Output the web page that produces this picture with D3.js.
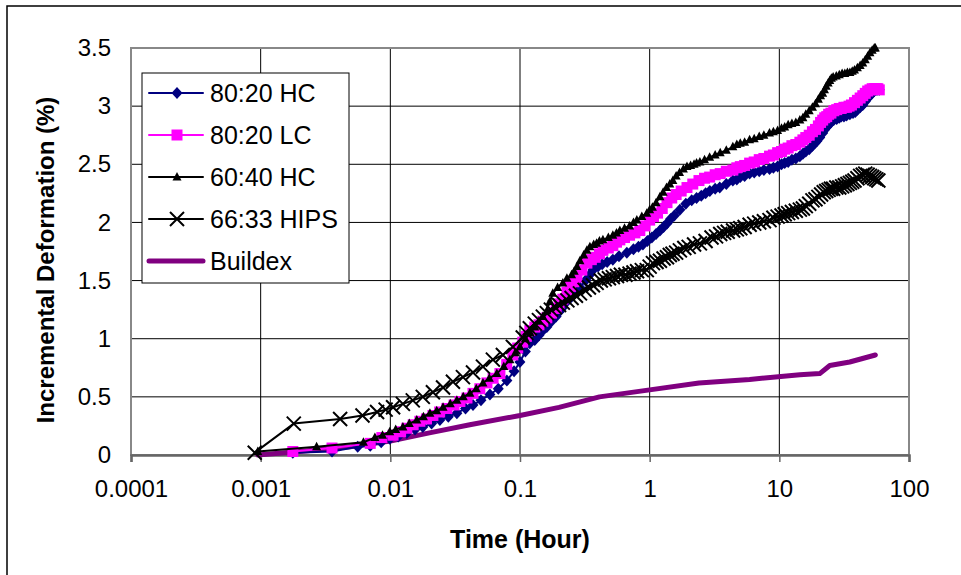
<!DOCTYPE html>
<html>
<head>
<meta charset="utf-8">
<script src="https://cdn.jsdelivr.net/npm/d3@7"></script>
<style>
  body { margin: 0; background: #fff; }
  svg { display: block; font-family: "Liberation Sans", Arial, sans-serif; }
</style>
</head>
<body>
<div id="chart"></div>
<script>
// series: [time (hour), incremental deformation (%)]
const hc8020 = [
  [0.00177,0.02],[0.00355,0.03],[0.0056,0.07],[0.007,0.08],[0.0085,0.11],[0.0099,0.14],[0.0115,0.16],
  [0.0134,0.19],[0.0155,0.22],[0.0178,0.24],[0.0208,0.27],[0.0241,0.30],[0.028,0.33],[0.0326,0.36],
  [0.038,0.40],[0.0434,0.43],[0.05,0.47],[0.0586,0.52],[0.068,0.57],[0.0792,0.64],[0.09,0.72],
  [0.0998,0.80],[0.11,0.89],[0.119,0.96],[0.13,0.99],[0.14,1.03],[0.15,1.07],[0.161,1.10],
  [0.175,1.15],[0.19,1.19],[0.2,1.23],[0.214,1.27],[0.23,1.32],[0.25,1.36],[0.27,1.40],
  [0.29,1.44],[0.32,1.50],[0.345,1.55],[0.365,1.59],[0.4,1.62],[0.43,1.64],[0.47,1.66],
  [0.52,1.68],[0.58,1.71],[0.667,1.74],[0.75,1.77],[0.82,1.79],[0.887,1.81],[0.96,1.84],
  [1.04,1.87],[1.12,1.90],[1.2,1.93],[1.28,1.96],[1.36,1.99],[1.45,2.03],[1.55,2.06],
  [1.71,2.11],[1.9,2.16],[2.11,2.19],[2.3,2.21],[2.5,2.23],[2.7,2.25],[2.91,2.27],
  [3.2,2.29],[3.47,2.30],[3.9,2.33],[4.38,2.36],[4.7,2.37],[5.0,2.39],[5.4,2.40],
  [5.9,2.42],[6.4,2.43],[7.0,2.44],[7.6,2.45],[8.4,2.46],[9.0,2.47],[9.7,2.48],
  [10.4,2.50],[11,2.51],[11.7,2.52],[12.5,2.54],[13.4,2.55],[14.4,2.57],[15.2,2.59],
  [16,2.61],[17,2.63],[18,2.66],[18.8,2.68],[19.5,2.70],[20.5,2.73],[21.6,2.77],
  [22.4,2.80],[23.2,2.82],[24,2.84],[25,2.86],[26.3,2.88],[27.7,2.89],[29,2.90],
  [30,2.91],[31.5,2.91],[33,2.92],[35,2.93],[37,2.94],[38.5,2.95],[40,2.97],
  [42,2.99],[44,3.01],[46,3.04],[48,3.07],[50,3.09],[52,3.11],[54,3.13],
  [56,3.14],[57.5,3.14],[59,3.14]
];
const lc8020 = [
  [0.00177,0.03],[0.00355,0.06],[0.007,0.10],[0.0086,0.15],[0.0105,0.17],[0.012,0.20],[0.0134,0.23],
  [0.015,0.26],[0.0169,0.29],[0.019,0.31],[0.0213,0.34],[0.024,0.37],[0.0273,0.40],[0.031,0.43],
  [0.0344,0.46],[0.039,0.49],[0.0434,0.53],[0.049,0.57],[0.0556,0.62],[0.062,0.66],[0.070,0.70],
  [0.079,0.78],[0.0881,0.86],[0.096,0.92],[0.105,0.97],[0.112,1.02],[0.119,1.07],[0.13,1.10],
  [0.14,1.12],[0.15,1.15],[0.161,1.18],[0.175,1.22],[0.19,1.26],[0.2,1.30],[0.214,1.34],
  [0.23,1.40],[0.245,1.45],[0.26,1.49],[0.275,1.53],[0.30,1.59],[0.328,1.65],[0.355,1.68],
  [0.38,1.70],[0.41,1.73],[0.436,1.76],[0.48,1.78],[0.52,1.80],[0.555,1.83],[0.589,1.85],
  [0.64,1.87],[0.7,1.89],[0.77,1.91],[0.84,1.93],[0.92,1.97],[1.0,2.02],[1.07,2.05],
  [1.15,2.08],[1.25,2.12],[1.36,2.17],[1.48,2.21],[1.6,2.24],[1.75,2.27],[1.94,2.30],
  [2.15,2.33],[2.4,2.36],[2.65,2.38],[2.9,2.39],[3.2,2.41],[3.5,2.42],[3.9,2.44],
  [4.38,2.45],[4.7,2.47],[5.0,2.48],[5.4,2.49],[5.9,2.51],[6.4,2.52],[7.0,2.54],
  [7.6,2.55],[8.4,2.57],[9.0,2.58],[9.7,2.60],[10.4,2.61],[11,2.63],[11.7,2.64],
  [12.5,2.66],[13.4,2.67],[14.4,2.69],[15.2,2.71],[16,2.73],[17,2.75],[18,2.78],
  [19,2.80],[20,2.83],[20.8,2.86],[21.6,2.88],[22.4,2.90],[23.2,2.91],[24,2.93],
  [25,2.94],[26.3,2.96],[27.7,2.97],[29,2.98],[30,2.98],[31.5,2.99],[33,2.99],
  [34.5,3.00],[36,3.01],[38,3.03],[40,3.05],[42,3.07],[44,3.09],[46,3.11],
  [48,3.13],[50,3.14],[52,3.15],[54,3.15],[56,3.15],[57.5,3.15],[59,3.14]
];
const hc6040 = [
  [0.00095,0.03],[0.0027,0.07],[0.0062,0.11],[0.0076,0.15],[0.0087,0.17],[0.0099,0.20],[0.011,0.22],
  [0.0125,0.24],[0.014,0.27],[0.016,0.30],[0.018,0.33],[0.0202,0.36],[0.0228,0.38],[0.0255,0.41],
  [0.029,0.44],[0.0326,0.47],[0.0365,0.50],[0.0411,0.53],[0.046,0.57],[0.0518,0.62],[0.058,0.66],
  [0.0663,0.70],[0.075,0.76],[0.0836,0.82],[0.092,0.88],[0.0998,0.93],[0.11,1.00],[0.12,1.05],
  [0.13,1.10],[0.14,1.15],[0.15,1.19],[0.161,1.24],[0.17,1.32],[0.179,1.39],[0.195,1.44],
  [0.214,1.48],[0.23,1.52],[0.25,1.55],[0.262,1.58],[0.275,1.62],[0.29,1.67],[0.31,1.72],
  [0.328,1.76],[0.346,1.79],[0.37,1.81],[0.39,1.82],[0.41,1.84],[0.436,1.85],[0.48,1.87],
  [0.52,1.89],[0.555,1.91],[0.589,1.93],[0.64,1.95],[0.7,1.97],[0.75,2.00],[0.796,2.02],
  [0.87,2.05],[0.95,2.08],[1.0,2.11],[1.05,2.13],[1.12,2.17],[1.2,2.22],[1.27,2.26],
  [1.35,2.30],[1.43,2.33],[1.51,2.36],[1.6,2.40],[1.7,2.43],[1.82,2.46],[1.94,2.48],
  [2.07,2.49],[2.2,2.50],[2.3,2.51],[2.44,2.52],[2.65,2.54],[2.9,2.56],[3.2,2.58],
  [3.5,2.60],[3.9,2.62],[4.38,2.65],[4.7,2.67],[5.0,2.68],[5.4,2.69],[5.9,2.71],
  [6.4,2.72],[7.0,2.74],[7.6,2.75],[8.4,2.77],[9.0,2.78],[9.7,2.79],[10.4,2.81],
  [11,2.82],[11.7,2.84],[12.5,2.85],[13.4,2.86],[14.4,2.88],[15.2,2.90],[16,2.93],
  [17,2.96],[18,2.99],[19,3.02],[20,3.06],[20.8,3.09],[21.6,3.11],[22.3,3.14],
  [23,3.17],[23.8,3.20],[24.5,3.22],[25.2,3.24],[26,3.25],[27.5,3.26],[29,3.27],
  [30.5,3.28],[32,3.28],[33.5,3.29],[35,3.29],[36.5,3.30],[38,3.31],[40,3.33],
  [42,3.35],[44,3.37],[46,3.40],[48,3.43],[50,3.46],[52,3.48],[54,3.50],[55,3.50]
];
const hips6633 = [
  [0.0009,0.02],[0.0018,0.27],[0.0041,0.31],[0.0061,0.34],[0.0079,0.37],[0.0092,0.39],[0.0105,0.41],
  [0.0125,0.44],[0.0149,0.47],[0.0178,0.50],[0.0213,0.54],[0.0255,0.58],[0.0304,0.63],[0.0363,0.67],
  [0.0434,0.71],[0.0518,0.76],[0.0618,0.82],[0.0738,0.86],[0.0881,0.93],[0.105,1.01],[0.112,1.05],
  [0.119,1.09],[0.13,1.13],[0.14,1.16],[0.15,1.19],[0.161,1.22],[0.173,1.25],[0.186,1.27],
  [0.2,1.29],[0.214,1.31],[0.232,1.33],[0.25,1.35],[0.27,1.37],[0.29,1.39],[0.315,1.42],
  [0.34,1.44],[0.365,1.46],[0.39,1.48],[0.42,1.50],[0.45,1.51],[0.485,1.52],[0.52,1.53],
  [0.56,1.54],[0.60,1.55],[0.65,1.55],[0.70,1.56],[0.75,1.57],[0.80,1.58],[0.87,1.59],
  [0.95,1.59],[1.0,1.62],[1.06,1.65],[1.13,1.66],[1.2,1.67],[1.28,1.69],[1.36,1.70],
  [1.43,1.72],[1.5,1.73],[1.6,1.74],[1.71,1.76],[1.85,1.78],[2.0,1.79],[2.2,1.81],
  [2.44,1.82],[2.7,1.84],[3.0,1.87],[3.25,1.88],[3.5,1.90],[3.75,1.91],[4.0,1.92],
  [4.4,1.93],[4.7,1.94],[5.0,1.95],[5.4,1.96],[5.9,1.98],[6.4,1.99],[7.0,2.00],
  [7.6,2.01],[8.4,2.02],[9.0,2.04],[9.7,2.05],[10.4,2.06],[11,2.07],[11.7,2.08],
  [12.5,2.09],[13.4,2.10],[14.4,2.11],[15.2,2.12],[16,2.14],[17,2.16],[18,2.19],
  [19,2.20],[20,2.22],[21,2.24],[22,2.26],[23,2.27],[24,2.28],[25,2.29],
  [26,2.29],[27.5,2.30],[29,2.30],[30.5,2.31],[32,2.32],[33.5,2.33],[35,2.34],
  [36.5,2.35],[38,2.36],[40,2.38],[42,2.40],[44,2.41],[46,2.42],[48,2.41],
  [50,2.40],[52,2.39],[54,2.38],[56,2.37],[58,2.36]
];
const buildex = [
  [0.00095,0.0],[0.002,0.03],[0.0049,0.07],[0.01,0.12],[0.02,0.19],[0.041,0.26],
  [0.1,0.34],[0.2,0.41],[0.41,0.50],[1.0,0.56],[2.4,0.62],[5.9,0.65],
  [14.4,0.69],[20.5,0.70],[24.5,0.77],[34.9,0.80],[55,0.86]
];

const xTicks = [0.0001, 0.001, 0.01, 0.1, 1, 10, 100];
const xTickLabels = ["0.0001", "0.001", "0.01", "0.1", "1", "10", "100"];
const yTicks = [0, 0.5, 1, 1.5, 2, 2.5, 3, 3.5];

const width = 961, height = 575;
const margin = { top: 48, right: 52, bottom: 120, left: 131 };

const svg = d3.select("#chart").append("svg")
    .attr("width", width)
    .attr("height", height);

const x = d3.scaleLog()
    .domain([0.0001, 100])
    .range([margin.left, width - margin.right]);

const y = d3.scaleLinear()
    .domain([0, 3.5])
    .range([height - margin.bottom, margin.top]);

// outer chart border (runs off the picture at right and bottom)
svg.append("path")
    .attr("d", `M7,${height} V6 H${width}`)
    .attr("fill", "none")
    .attr("stroke", "#000")
    .attr("stroke-width", 1.5);

// grid
svg.append("g")
    .selectAll("line")
    .data(yTicks.slice(1, -1))
    .join("line")
    .attr("x1", x(0.0001)).attr("x2", x(100))
    .attr("y1", d => y(d)).attr("y2", d => y(d))
    .attr("stroke", "#000").attr("stroke-width", 1);

svg.append("g")
    .selectAll("line")
    .data(xTicks.slice(1, -1))
    .join("line")
    .attr("x1", d => x(d)).attr("x2", d => x(d))
    .attr("y1", y(0)).attr("y2", y(3.5))
    .attr("stroke", "#000").attr("stroke-width", 1);

// plot frame
svg.append("rect")
    .attr("x", x(0.0001)).attr("y", y(3.5))
    .attr("width", x(100) - x(0.0001))
    .attr("height", y(0) - y(3.5))
    .attr("fill", "none")
    .attr("stroke", "#888").attr("stroke-width", 2);

// x axis
const xAxis = svg.append("g")
    .attr("transform", `translate(0,${y(0)})`)
    .call(d3.axisBottom(x).tickValues(xTicks).tickFormat((d, i) => xTickLabels[i]).tickSize(7).tickPadding(18));
xAxis.select(".domain").attr("stroke", "#666").attr("stroke-width", 2.5);
xAxis.selectAll(".tick line").attr("stroke", "#666").attr("stroke-width", 1.5);
xAxis.selectAll(".tick text").attr("font-size", 24).attr("fill", "#000")
    .attr("font-family", "Liberation Sans, Arial, sans-serif");

// y axis
const yAxis = svg.append("g")
    .attr("transform", `translate(${x(0.0001)},0)`)
    .call(d3.axisLeft(y).tickValues(yTicks).tickFormat(d3.format("")).tickSize(0).tickPadding(20));
yAxis.select(".domain").remove();
yAxis.selectAll(".tick text").attr("font-size", 24).attr("fill", "#000")
    .attr("font-family", "Liberation Sans, Arial, sans-serif");

// axis titles
svg.append("text")
    .attr("x", 520).attr("y", 548)
    .attr("text-anchor", "middle")
    .attr("font-size", 25).attr("font-weight", "bold")
    .text("Time (Hour)");

svg.append("text")
    .attr("transform", "translate(54,260) rotate(-90)")
    .attr("text-anchor", "middle")
    .attr("font-size", 24).attr("font-weight", "bold")
    .text("Incremental Deformation (%)");

// lines and markers
const line = d3.line().x(d => x(d[0])).y(d => y(d[1]));

const crossPath = r => `M${-r},${-r}L${r},${r}M${-r},${r}L${r},${-r}`;

const series = [
  { name: "Buildex", data: buildex, color: "#800080", width: 5, marker: null },
  { name: "80:20 HC", data: hc8020, color: "#000080", width: 2, marker: "diamond" },
  { name: "80:20 LC", data: lc8020, color: "#ff00ff", width: 2, marker: "square" },
  { name: "60:40 HC", data: hc6040, color: "#000000", width: 2, marker: "triangle" },
  { name: "66:33 HIPS", data: hips6633, color: "#000000", width: 2, marker: "cross" }
];

function drawMarker(sel, kind, color) {
  if (kind === "diamond") {
    sel.append("path").attr("d", "M0,-6L5.5,0L0,6L-5.5,0Z").attr("fill", color);
  } else if (kind === "square") {
    sel.append("rect").attr("x", -5.5).attr("y", -5.5).attr("width", 11).attr("height", 11).attr("fill", color);
  } else if (kind === "triangle") {
    sel.append("path").attr("d", "M0,-5L4.5,3.5L-4.5,3.5Z").attr("fill", color);
  } else if (kind === "cross") {
    sel.append("path").attr("d", crossPath(7)).attr("stroke", color).attr("stroke-width", 2).attr("fill", "none");
  }
}

series.forEach(s => {
  const g = svg.append("g");
  g.append("path")
    .datum(s.data)
    .attr("d", line)
    .attr("fill", "none")
    .attr("stroke", s.color)
    .attr("stroke-width", s.width)
    .attr("stroke-linejoin", "round")
    .attr("stroke-linecap", "round");
  if (s.marker) {
    g.selectAll("g.pt")
      .data(s.data)
      .join("g")
      .attr("class", "pt")
      .attr("transform", d => `translate(${x(d[0])},${y(d[1])})`)
      .each(function() { drawMarker(d3.select(this), s.marker, s.color); });
  }
});

// legend
const legendOrder = ["80:20 HC", "80:20 LC", "60:40 HC", "66:33 HIPS", "Buildex"];
const legend = svg.append("g").attr("transform", "translate(142,73)");
legend.append("rect")
    .attr("width", 207).attr("height", 210)
    .attr("fill", "#fff").attr("stroke", "#000").attr("stroke-width", 1);

legendOrder.forEach((name, i) => {
  const s = series.find(d => d.name === name);
  const row = legend.append("g").attr("transform", `translate(0,${20 + i * 42})`);
  row.append("line")
    .attr("x1", 7).attr("x2", 61)
    .attr("stroke", s.color).attr("stroke-width", s.marker ? 2 : 5)
    .attr("stroke-linecap", "round");
  if (s.marker) {
    drawMarker(row.append("g").attr("transform", "translate(35,0)"), s.marker, s.color);
  }
  row.append("text")
    .attr("x", 68).attr("y", 0)
    .attr("dy", "0.35em")
    .attr("font-size", 25)
    .text(name);
});
</script>
</body>
</html>
